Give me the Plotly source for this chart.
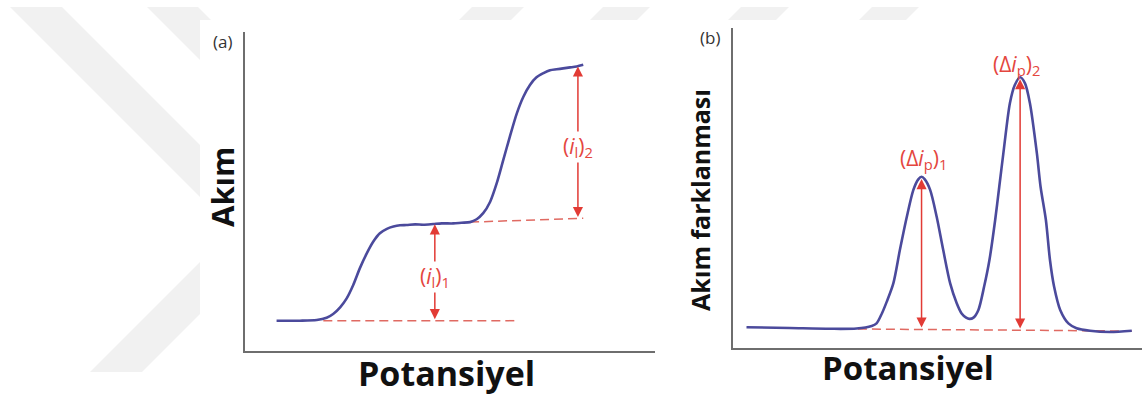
import plotly.graph_objects as go

W, H = 1142, 396

# ---------------- (a) DC polarogram: two reduction waves ----------------
pol_potential = [7.7, 10.5, 13.4, 17.5, 19.9, 21.5, 23.2, 24.8, 26.4, 28.0, 29.7,
                 31.3, 32.9, 34.6, 36.2, 37.8, 39.4, 41.5, 43.5, 45.9, 48.0, 50.8,
                 52.8, 54.9, 56.5, 58.1, 59.8, 61.4, 63.0, 64.6, 66.3, 67.9, 69.5,
                 71.1, 72.8, 74.4, 76.0, 77.6, 79.3, 80.9, 82.5]
pol_current = [9.5, 9.5, 9.5, 9.7, 10.4, 11.6, 13.7, 16.5, 20.7, 25.9, 30.6,
               34.3, 36.9, 38.3, 39.0, 39.4, 39.5, 39.7, 39.6, 39.8, 40.0, 40.0,
               40.2, 40.4, 41.3, 43.2, 46.8, 52.6, 59.9, 67.2, 74.5, 79.7, 83.4,
               85.8, 87.1, 88.0, 88.3, 88.6, 88.9, 89.2, 89.7]

# extrapolated residual / first-plateau lines
pol_base1_x = [19.1, 66.7]
pol_base1_y = [9.5, 9.5]
pol_base2_x = [54.9, 82.5]
pol_base2_y = [40.4, 41.6]

# limiting currents (i_l)1, (i_l)2
il_x = [46.3, 81.2]
il_low = [9.5, 41.5]
il_high = [39.7, 89.2]
il_label_y = [23.2, 63.9]
il_labels = ["(<i>i</i><sub>l</sub>)<sub>1</sub>",
             "(<i>i</i><sub>l</sub>)<sub>2</sub>"]

# ---------------- (b) differential pulse polarogram ----------------
dp_potential = [3.3, 13.9, 23.7, 30.2, 33.9, 35.1, 36.4, 37.6, 39.2, 40.8, 42.5,
                44.1, 45.3, 46.1, 46.9, 48.2, 49.8, 51.4, 53.1, 54.7, 55.9, 57.0,
                57.8, 58.8, 60.0, 61.4, 62.7, 64.1, 65.1, 66.1, 67.7, 68.9, 70.2,
                71.4, 72.6, 74.3, 75.2, 76.5, 77.5, 78.5, 80.0, 82.0, 84.0, 87.3,
                92.2, 97.5]
dp_current = [6.5, 6.25, 6.0, 6.1, 6.9, 7.7, 10.8, 14.5, 20.2, 30.6, 41.0,
              49.4, 52.7, 53.5, 52.7, 49.4, 41.0, 30.6, 20.2, 14.0, 10.8, 9.5,
              9.1, 9.5, 11.9, 19.2, 27.5, 40.0, 50.4, 60.8, 76.5, 82.2, 84.6,
              82.7, 76.5, 60.8, 50.4, 40.0, 27.5, 19.2, 11.9, 7.7, 6.2, 5.4,
              5.0, 5.4]

dp_base_x = [23.7, 97.5]
dp_base_y = [6.0, 5.3]

# peak heights (Δi_p)1, (Δi_p)2
peak_x = [46.1, 70.2]
peak_low = [5.9, 5.6]
peak_high = [52.8, 84.0]
peak_label_x = [46.5, 69.4]
peak_label_y = [59.2, 88.4]
peak_labels = ["(Δ<i>i</i><sub>p</sub>)<sub>1</sub>",
               "(Δ<i>i</i><sub>p</sub>)<sub>2</sub>"]

CURVE = "#4b4a9c"
RED = "#e23b35"
LABEL_RED = "#e4463e"
DASH_RED = "#e06a62"
AXIS = "#6e6e6e"
FONT = "Open Sans"

fig = go.Figure()

curve_style = dict(color=CURVE, width=2.6, shape="spline", smoothing=0.8)
dash_style = dict(color=DASH_RED, width=1.5, dash="9px,5px")

fig.add_trace(go.Scatter(x=pol_base1_x, y=pol_base1_y, mode="lines",
                         line=dash_style, xaxis="x", yaxis="y", hoverinfo="skip"))
fig.add_trace(go.Scatter(x=pol_base2_x, y=pol_base2_y, mode="lines",
                         line=dash_style, xaxis="x", yaxis="y", hoverinfo="skip"))
fig.add_trace(go.Scatter(x=pol_potential, y=pol_current, mode="lines",
                         line=curve_style, xaxis="x", yaxis="y"))

fig.add_trace(go.Scatter(x=dp_base_x, y=dp_base_y, mode="lines",
                         line=dash_style, xaxis="x2", yaxis="y2", hoverinfo="skip"))
fig.add_trace(go.Scatter(x=dp_potential, y=dp_current, mode="lines",
                         line=curve_style, xaxis="x2", yaxis="y2"))


def px_x(p):
    return p / W


def px_y(p):
    return 1 - p / H


axis_common = dict(showgrid=False, zeroline=False, showticklabels=False, ticks="",
                   showline=True, linecolor=AXIS, linewidth=1.8, mirror=False,
                   range=[0, 100], fixedrange=True)

layout = dict(
    width=W, height=H,
    margin=dict(l=0, r=0, t=0, b=0),
    paper_bgcolor="white",
    plot_bgcolor="rgba(0,0,0,0)",
    showlegend=False,
    xaxis=dict(axis_common, domain=[px_x(245), px_x(655)], anchor="y"),
    yaxis=dict(axis_common, domain=[px_y(351), px_y(32)], anchor="x"),
    xaxis2=dict(axis_common, domain=[px_x(733), 1.0], anchor="y2"),
    yaxis2=dict(axis_common, domain=[px_y(348), px_y(28)], anchor="x2"),
)

annotations = []


def arrow(xref, yref, x, y0, y1):
    return dict(x=x, y=y1, ax=x, ay=y0, xref=xref, yref=yref, axref=xref, ayref=yref,
                text="", showarrow=True, arrowside="end+start",
                arrowhead=2, startarrowhead=2, arrowsize=1.35, startarrowsize=1.35,
                arrowwidth=1.5, arrowcolor=RED, standoff=0, startstandoff=0)


for x, lo, hi in zip(il_x, il_low, il_high):
    annotations.append(arrow("x", "y", x, lo, hi))
for x, ly, txt in zip(il_x, il_label_y, il_labels):
    annotations.append(dict(x=x, y=ly, xref="x", yref="y", text=txt, showarrow=False,
                            font=dict(family=FONT, size=21, color=LABEL_RED),
                            bgcolor="white", borderpad=0))

for x, lo, hi in zip(peak_x, peak_low, peak_high):
    annotations.append(arrow("x2", "y2", x, lo, hi))
for x, ly, txt in zip(peak_label_x, peak_label_y, peak_labels):
    annotations.append(dict(x=x, y=ly, xref="x2", yref="y2", text=txt, showarrow=False,
                            font=dict(family=FONT, size=21, color=LABEL_RED)))

# panel tags and axis titles
text_items = [
    ("(a)", 222, 41, 17, False, 0),
    ("(b)", 710, 38, 17, False, 0),
    ("Potansiyel", 446, 373, 34, True, 0),
    ("Potansiyel", 908, 367, 33, True, 0),
    ("Akım", 222, 187, 31, True, -90),
    ("Akım farklanması", 700, 200, 25, True, -90),
]
for txt, px, py, size, bold, ang in text_items:
    annotations.append(dict(
        x=px_x(px), y=px_y(py), xref="paper", yref="paper",
        text=f"<b>{txt}</b>" if bold else txt, showarrow=False,
        xanchor="center", yanchor="middle", textangle=ang,
        font=dict(family=FONT, size=size, color="#111111" if bold else "#333333")))

layout["annotations"] = annotations

# faint background watermark bands (partly hidden behind the white figure area)
WM = "#f1f1f1"


def poly(points):
    path = "M " + " L ".join(f"{px_x(a):.5f},{px_y(b):.5f}" for a, b in points) + " Z"
    return dict(type="path", path=path, xref="paper", yref="paper",
                fillcolor=WM, line=dict(width=0), layer="below")


bands = [
    [(10, 7), (62, 7), (400, 345), (348, 345)],
    [(147, 7), (198, 7), (400, 209), (349, 209)],
    [(90, 372), (142, 372), (400, 114), (348, 114)],
    [(472, 7), (524, 7), (511, 20), (459, 20)],
    [(603, 7), (650, 7), (637, 20), (590, 20)],
    [(741, 7), (789, 7), (776, 20), (728, 20)],
    [(872, 7), (919, 7), (906, 20), (859, 20)],
]
shapes = [poly(b) for b in bands]
shapes.append(dict(type="rect", xref="paper", yref="paper",
                   x0=px_x(200), x1=1.0, y0=0.0, y1=px_y(20),
                   fillcolor="white", line=dict(width=0), layer="below"))
layout["shapes"] = shapes

fig.update_layout(layout)
fig.write_html("out.html")
